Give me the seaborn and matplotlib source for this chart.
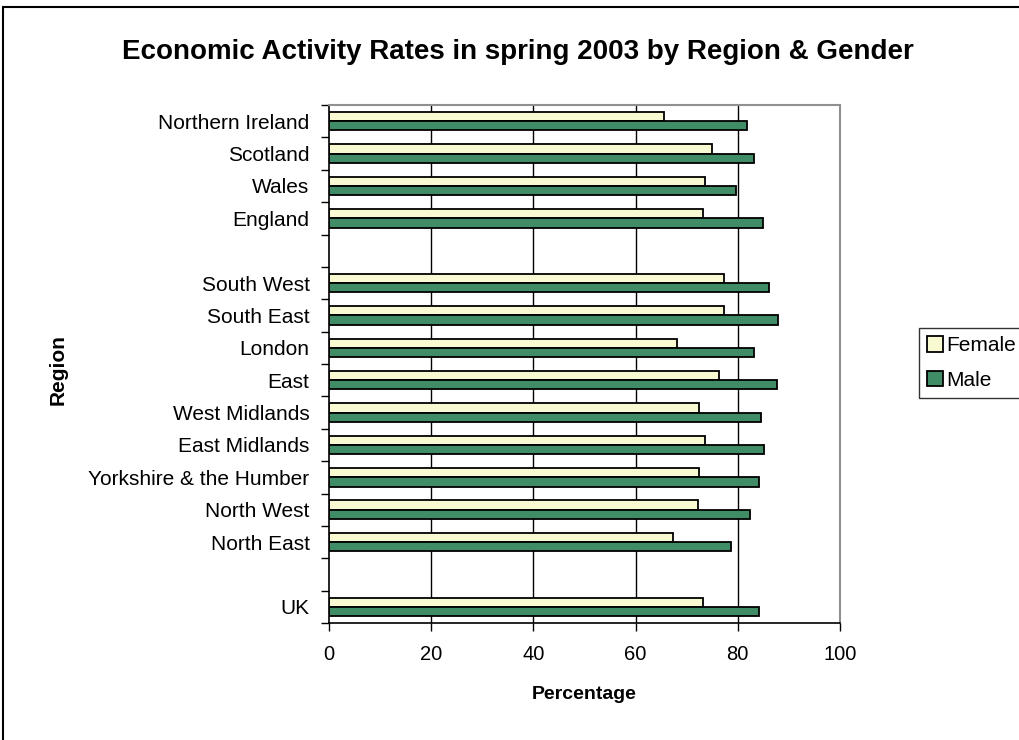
import numpy as np
import pandas as pd
import matplotlib
matplotlib.use("Agg")
import matplotlib.pyplot as plt
import seaborn as sns
from matplotlib.patches import Rectangle

regions = ["Northern Ireland", "Scotland", "Wales", "England", "",
           "South West", "South East", "London", "East", "West Midlands",
           "East Midlands", "Yorkshire & the Humber", "North West", "North East",
           " ", "UK"]
female = [65.6, 74.9, 73.5, 73.2, np.nan, 77.3, 77.3, 68.1, 76.3, 72.5,
          73.5, 72.5, 72.2, 67.3, np.nan, 73.2]
male = [81.8, 83.1, 79.7, 84.9, np.nan, 86.2, 87.9, 83.1, 87.6, 84.5,
        85.2, 84.2, 82.4, 78.6, np.nan, 84.2]
genders = ["Female", "Male"]
colors = ["#FFFFCC", "#339966"]
x_ticks = [0, 20, 40, 60, 80, 100]

df = pd.DataFrame({
    "Region": regions * 2,
    "Gender": ["Female"] * len(regions) + ["Male"] * len(regions),
    "Percentage": female + male,
})

sns.set_theme(style="white")
plt.rcParams["font.family"] = ["Liberation Sans", "DejaVu Sans"]
for k in ["text.color", "axes.labelcolor", "xtick.color", "ytick.color"]:
    plt.rcParams[k] = "black"

fig = plt.figure(figsize=(10.2, 7.4), dpi=100)
ax = fig.add_axes([329 / 1020, 1 - 623 / 740, (840 - 329) / 1020, (623 - 105) / 740])

sns.barplot(data=df, y="Region", x="Percentage", hue="Gender", order=regions,
            hue_order=genders, palette=colors, orient="h", width=0.57,
            edgecolor="black", linewidth=1.3, ax=ax, legend=True)

ax.set_xlim(0, 100)
ax.set_ylim(len(regions) - 0.5, -0.5)
ax.set_xticks(x_ticks)
ax.set_xticklabels([str(v) for v in x_ticks], fontsize=14.5)
ax.set_yticks(range(len(regions)))
ax.set_yticklabels(regions, fontsize=15)
ax.set_yticks(np.arange(-0.5, len(regions), 1.0), minor=True)
ax.tick_params(axis="y", which="major", length=0, pad=14)
ax.tick_params(axis="y", which="minor", length=6, width=1, color="black", direction="out", left=True)
ax.tick_params(axis="x", which="major", length=6, width=1, color="black", direction="out", bottom=True, pad=10)

for v in [20, 40, 60, 80]:
    ax.axvline(v, color="black", linewidth=1, zorder=0)
ax.grid(False)

for s in ["left", "bottom"]:
    ax.spines[s].set_color("black")
    ax.spines[s].set_linewidth(1.2)
for s in ["top", "right"]:
    ax.spines[s].set_color("#909090")
    ax.spines[s].set_linewidth(1.5)

ax.set_xlabel("Percentage", fontsize=14, fontweight="bold", labelpad=16)
ax.set_ylabel("Region", fontsize=15, fontweight="bold", labelpad=14)
ax.yaxis.set_label_coords(58 / 1020, 0.5, transform=fig.transFigure)
ax.yaxis.label.set_va("center")

fig.suptitle("Economic Activity Rates in spring 2003 by Region & Gender",
             fontsize=20, fontweight="bold", x=518 / 1020, y=1 - 52 / 740, va="center")

leg = ax.legend(loc="upper left", bbox_to_anchor=(919 / 1020, 1 - 328 / 740),
                bbox_transform=fig.transFigure, frameon=True, fontsize=15,
                handlelength=0.75, handleheight=0.75, handletextpad=0.15,
                borderpad=0.4, labelspacing=0.75, fancybox=False, borderaxespad=0)
leg.get_frame().set_edgecolor("black")
leg.get_frame().set_linewidth(1.0)

fig.patches.append(Rectangle((3.5 / 1020, -0.1), 1.2, 1.1 - 7 / 740,
                             transform=fig.transFigure, fill=False,
                             edgecolor="black", linewidth=1.5))

fig.savefig("out.png", dpi=100)
